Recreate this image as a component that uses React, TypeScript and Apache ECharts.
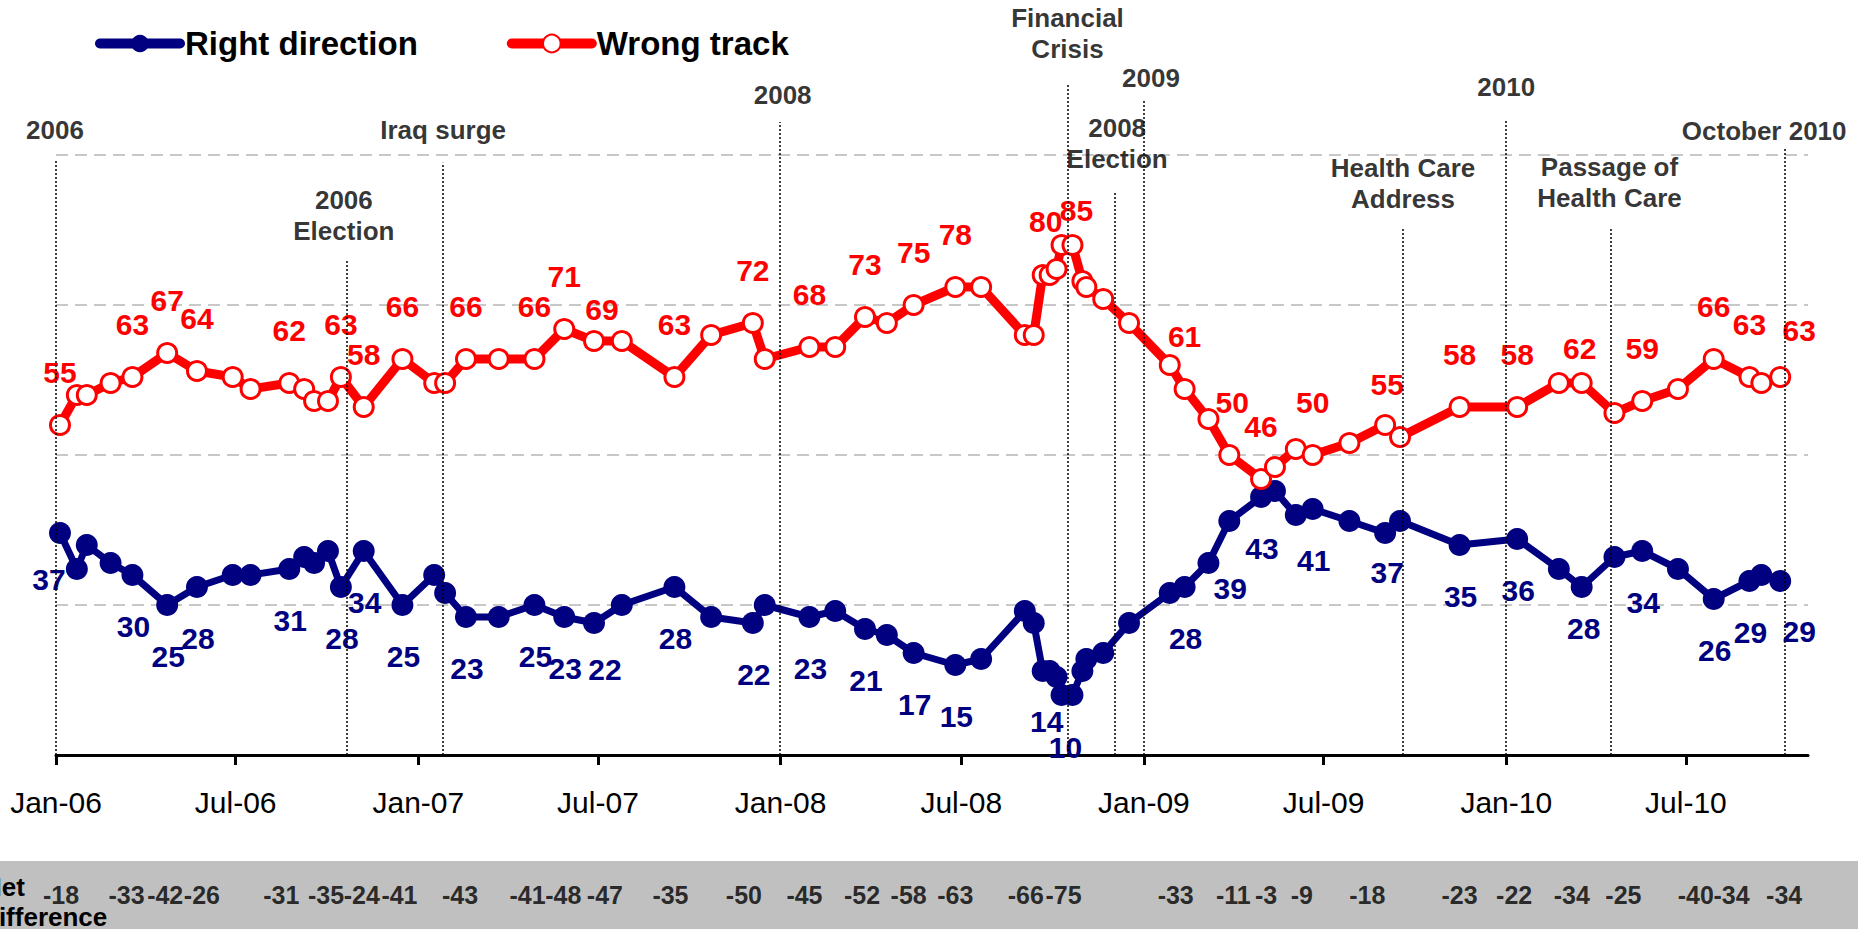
import React, { useEffect, useRef } from "react";
import * as echarts from "echarts";

// ---------------- DATA ----------------
const pollDates = [
  "2006-01-05", "2006-01-22", "2006-02-01", "2006-02-25", "2006-03-19", "2006-04-23", "2006-05-23", "2006-06-28", "2006-07-16", "2006-08-24",
  "2006-09-08", "2006-09-18", "2006-10-02", "2006-10-15", "2006-11-07", "2006-12-16", "2007-01-17", "2007-01-28", "2007-02-18", "2007-03-23",
  "2007-04-28", "2007-05-28", "2007-06-27", "2007-07-25", "2007-09-16", "2007-10-23", "2007-12-04", "2007-12-16", "2008-01-30", "2008-02-25",
  "2008-03-26", "2008-04-17", "2008-05-14", "2008-06-25", "2008-07-21", "2008-09-03", "2008-09-12", "2008-09-21", "2008-09-28", "2008-10-05",
  "2008-10-10", "2008-10-21", "2008-10-31", "2008-11-04", "2008-11-21", "2008-12-17", "2009-01-27", "2009-02-11", "2009-03-07", "2009-03-28",
  "2009-04-29", "2009-05-13", "2009-06-03", "2009-06-20", "2009-07-27", "2009-09-01", "2009-09-16", "2009-11-15", "2010-01-12", "2010-02-23",
  "2010-03-18", "2010-04-20", "2010-05-18", "2010-06-23", "2010-07-29", "2010-09-03", "2010-09-15", "2010-10-04",
];

const rightDirection = [
  37, 31, 35, 32, 30, 25, 28, 30, 30, 31,
  33, 32, 34, 28, 34, 25, 30, 27, 23, 23,
  25, 23, 22, 25, 28, 23, 22, 25, 23, 24,
  21, 20, 17, 15, 16, 24, 22, 14, 14, 13,
  10, 10, 14, 16, 17, 22, 27, 28, 32, 39,
  43, 44, 40, 41, 39, 37, 39, 35, 36, 31,
  28, 33, 34, 31, 26, 29, 30, 29,
];

const wrongTrack = [
  55, 60, 60, 62, 63, 67, 64, 63, 61, 62,
  61, 59, 59, 63, 58, 66, 62, 62, 66, 66,
  66, 71, 69, 69, 63, 70, 72, 66, 68, 68,
  73, 72, 75, 78, 78, 70, 70, 80, 80, 81,
  85, 85, 79, 78, 76, 72, 65, 61, 56, 50,
  46, 48, 51, 50, 52, 55, 53, 58, 58, 62,
  62, 57, 59, 61, 66, 63, 62, 63,
];

// indices of polls whose values are printed
const labeledWrong = [0, 4, 5, 6, 9, 13, 14, 15, 18, 20, 21, 22, 24, 26, 28, 30, 32, 33, 37, 41, 47, 49, 50, 53, 55, 57, 58, 60, 62, 64, 65, 67];
const labeledRight = [0, 4, 5, 6, 9, 13, 14, 15, 18, 20, 21, 22, 24, 26, 28, 30, 32, 33, 37, 40, 47, 49, 50, 53, 55, 57, 58, 60, 62, 64, 65, 67];

const netDates = [
  "2006-01-06", "2006-03-13", "2006-04-21", "2006-05-28", "2006-08-16", "2006-09-30", "2006-11-05", "2006-12-13",
  "2007-02-12", "2007-04-21", "2007-05-27", "2007-07-08", "2007-09-12", "2007-11-25", "2008-01-25", "2008-03-23",
  "2008-05-09", "2008-06-25", "2008-09-04", "2008-10-12", "2009-02-02", "2009-04-01", "2009-05-04", "2009-06-09",
  "2009-08-14", "2009-11-15", "2010-01-09", "2010-03-08", "2010-04-29", "2010-07-11", "2010-08-16", "2010-10-08",
];
const netValues = [
  -18, -33, -42, -26, -31, -35, -24, -41,
  -43, -41, -48, -47, -35, -50, -45, -52,
  -58, -63, -66, -75, -33, -11, -3, -9,
  -18, -23, -22, -34, -25, -40, -34, -34,
];

const eventDates = [
  "2006-01-01", "2006-10-21", "2007-01-26", "2007-12-31", "2008-10-16", "2008-12-03",
  "2009-01-01", "2009-09-19", "2010-01-01", "2010-04-16", "2010-10-09",
];
const eventNames = [
  "2006", "2006\nElection", "Iraq surge", "2008", "Financial\nCrisis", "2008\nElection",
  "2009", "Health Care\nAddress", "2010", "Passage of\nHealth Care", "October 2010",
];

const tickDates = [
  "2006-01-01", "2006-07-01", "2007-01-01", "2007-07-01", "2008-01-01",
  "2008-07-01", "2009-01-01", "2009-07-01", "2010-01-01", "2010-07-01",
];
const tickLabels = ["Jan-06", "Jul-06", "Jan-07", "Jul-07", "Jan-08", "Jul-08", "Jan-09", "Jul-09", "Jan-10", "Jul-10"];

const axisStart = "2006-01-01";
const axisEnd = "2010-11-01";

// ---------------- LAYOUT / STYLE ----------------
const FONT = "'Liberation Sans', Arial, sans-serif";
const NAVY = "#000080";
const RED = "#FF0000";

// event annotation layout: line top (axis units), text centre (axis units), text shift px
const eventLayout = [
  { top: 99.2, text: 104.2, dx: -1 },
  { top: 82.5, text: 90, dx: -3 },
  { top: 98.7, text: 104.2, dx: 0 },
  { top: 105.5, text: 110, dx: 3 },
  { top: 112, text: 120.25, dx: 0 },
  { top: 93.7, text: 102, dx: 2 },
  { top: 109.2, text: 112.8, dx: 7 },
  { top: 87.8, text: 95.2, dx: 0 },
  { top: 105.8, text: 111.3, dx: 0 },
  { top: 87.8, text: 95.4, dx: -1 },
  { top: 101.3, text: 104, dx: -21 },
];

const wrongOffsetDefault = [0, -53];
const wrongOffsets: Record<number, number[]> = {
  22: [8, -32], 37: [3, -54], 41: [4, -35], 49: [3, -53], 55: [2, -41], 60: [-2, -35], 67: [19, -47],
};
const rightOffsetDefault = [1, 51];
const rightOffsets: Record<number, number[]> = {
  0: [-11, 46], 22: [11, 46], 37: [4, 50], 40: [4, 52], 49: [1, 67], 55: [2, 39], 60: [2, 41], 67: [19, 50],
};

// days since axis start (UTC)
const dayNum = (s: string) => {
  const [y, m, d] = s.split("-").map(Number);
  return Math.round((Date.UTC(y, m - 1, d) - Date.UTC(2006, 0, 1)) / 86400000);
};

export default function App() {
  const ref = useRef<HTMLDivElement>(null);

  useEffect(() => {
    if (!ref.current) return;
    const chart = echarts.init(ref.current, null, { renderer: "svg" });

    const tickValues = tickDates.map(dayNum);
    const labelFor = (v: number) => {
      const i = tickValues.indexOf(Math.round(v));
      return i >= 0 ? tickLabels[i] : "";
    };

    const rightData = pollDates.map((d, i) => {
      const item: any = { value: [dayNum(d), rightDirection[i]] };
      if (labeledRight.includes(i)) item.label = { show: true, offset: rightOffsets[i] || rightOffsetDefault };
      return item;
    });
    const wrongData = pollDates.map((d, i) => {
      const item: any = { value: [dayNum(d), wrongTrack[i]] };
      if (labeledWrong.includes(i)) item.label = { show: true, offset: wrongOffsets[i] || wrongOffsetDefault };
      return item;
    });

    const option: any = {
      animation: false,
      backgroundColor: "#ffffff",
      textStyle: { fontFamily: FONT },
      legend: {
        left: 95,
        top: 27,
        padding: 0,
        itemWidth: 80,
        itemHeight: 22,
        itemGap: 89,
        selectedMode: false,
        lineStyle: { width: 10, cap: "round" },
        textStyle: { fontSize: 33, fontWeight: "bold", color: "#000", fontFamily: FONT },
        data: ["Right direction", "Wrong track"],
      },
      graphic: [
        { type: "rect", left: 0, top: 861, z: -10, shape: { width: 1858, height: 68 }, style: { fill: "#C0C0C0" } },
        {
          type: "text",
          x: -17,
          y: 872,
          style: { text: "Net\ndifference", font: `bold 26px ${FONT}`, fill: "#000", lineHeight: 30, verticalAlign: "top" },
        },
      ],
      grid: [
        { left: 56, right: 50, top: 5, bottom: 174 },
        { left: 56, right: 50, top: 861, bottom: 0 },
      ],
      xAxis: [
        {
          type: "value",
          gridIndex: 0,
          min: dayNum(axisStart),
          max: dayNum(axisEnd),
          axisLine: { show: true, onZero: false, lineStyle: { color: "#000", width: 3 } },
          axisTick: { show: true, customValues: tickValues, length: 10, inside: false, lineStyle: { color: "#000", width: 3 } },
          axisLabel: {
            customValues: tickValues,
            formatter: (v: number) => labelFor(v),
            fontSize: 30,
            color: "#000",
            margin: 32,
            fontFamily: FONT,
          },
          splitLine: { show: false },
        },
        { type: "value", gridIndex: 1, min: dayNum(axisStart), max: dayNum(axisEnd), show: false, splitLine: { show: false } },
      ],
      yAxis: [
        { type: "value", gridIndex: 0, min: 0, max: 125, interval: 25, show: false, splitLine: { show: false } },
        { type: "value", gridIndex: 1, min: 0, max: 1, show: false, splitLine: { show: false } },
      ],
      series: [
        {
          name: "gridlines",
          type: "line",
          xAxisIndex: 0,
          yAxisIndex: 0,
          z: 1,
          data: [],
          silent: true,
          markLine: {
            silent: true,
            z: 1,
            symbol: ["none", "none"],
            label: { show: false },
            lineStyle: { color: "#C8C8C8", type: [12, 7], width: 2 },
            data: [{ yAxis: 25 }, { yAxis: 50 }, { yAxis: 75 }, { yAxis: 100 }],
          },
        },
        {
          name: "Right direction",
          type: "line",
          xAxisIndex: 0,
          yAxisIndex: 0,
          z: 3,
          data: rightData,
          symbol: "circle",
          symbolSize: 22,
          lineStyle: { color: NAVY, width: 7, cap: "round", join: "round" },
          itemStyle: { color: NAVY },
          label: {
            show: false,
            position: "inside",
            formatter: (p: any) => String(p.value[1]),
            fontSize: 30,
            fontWeight: "bold",
            color: NAVY,
            fontFamily: FONT,
          },
        },
        {
          name: "Wrong track",
          type: "line",
          xAxisIndex: 0,
          yAxisIndex: 0,
          z: 4,
          data: wrongData,
          symbol: "circle",
          symbolSize: 19,
          lineStyle: { color: RED, width: 9, cap: "round", join: "round" },
          itemStyle: { color: "#ffffff", borderColor: RED, borderWidth: 3 },
          label: {
            show: false,
            position: "inside",
            formatter: (p: any) => String(p.value[1]),
            fontSize: 30,
            fontWeight: "bold",
            color: RED,
            fontFamily: FONT,
          },
        },
        {
          name: "events",
          type: "scatter",
          xAxisIndex: 0,
          yAxisIndex: 0,
          z: 6,
          symbol: "circle",
          symbolSize: 1,
          itemStyle: { color: "rgba(0,0,0,0)" },
          silent: true,
          data: eventDates.map((d, i) => ({
            value: [dayNum(d), eventLayout[i].text],
            label: { formatter: eventNames[i], offset: [eventLayout[i].dx, 0] },
          })),
          label: {
            show: true,
            position: "inside",
            fontSize: 26,
            fontWeight: "bold",
            color: "#000",
            lineHeight: 31,
            fontFamily: FONT,
          },
          markLine: {
            silent: true,
            symbol: ["none", "none"],
            label: { show: false },
            lineStyle: { color: "#000", type: [2, 2], width: 1.5 },
            data: eventDates.map((d, i) => [
              { coord: [dayNum(d), 0] },
              { coord: [dayNum(d), eventLayout[i].top] },
            ]),
          },
        },
        {
          name: "net",
          type: "scatter",
          xAxisIndex: 1,
          yAxisIndex: 1,
          z: 6,
          symbol: "circle",
          symbolSize: 1,
          itemStyle: { color: "rgba(0,0,0,0)" },
          silent: true,
          data: netDates.map((d, i) => [dayNum(d), 0.5, netValues[i]]),
          label: {
            show: true,
            position: "inside",
            formatter: (p: any) => String(p.value[2]),
            fontSize: 25,
            fontWeight: "bold",
            color: "#000",
            fontFamily: FONT,
          },
        },
      ],
    };

    chart.setOption(option);
    return () => chart.dispose();
  }, []);

  return (
    <div
      ref={ref}
      style={{ position: "fixed", left: 0, top: 0, width: 1858, height: 929, background: "#fff" }}
    />
  );
}
